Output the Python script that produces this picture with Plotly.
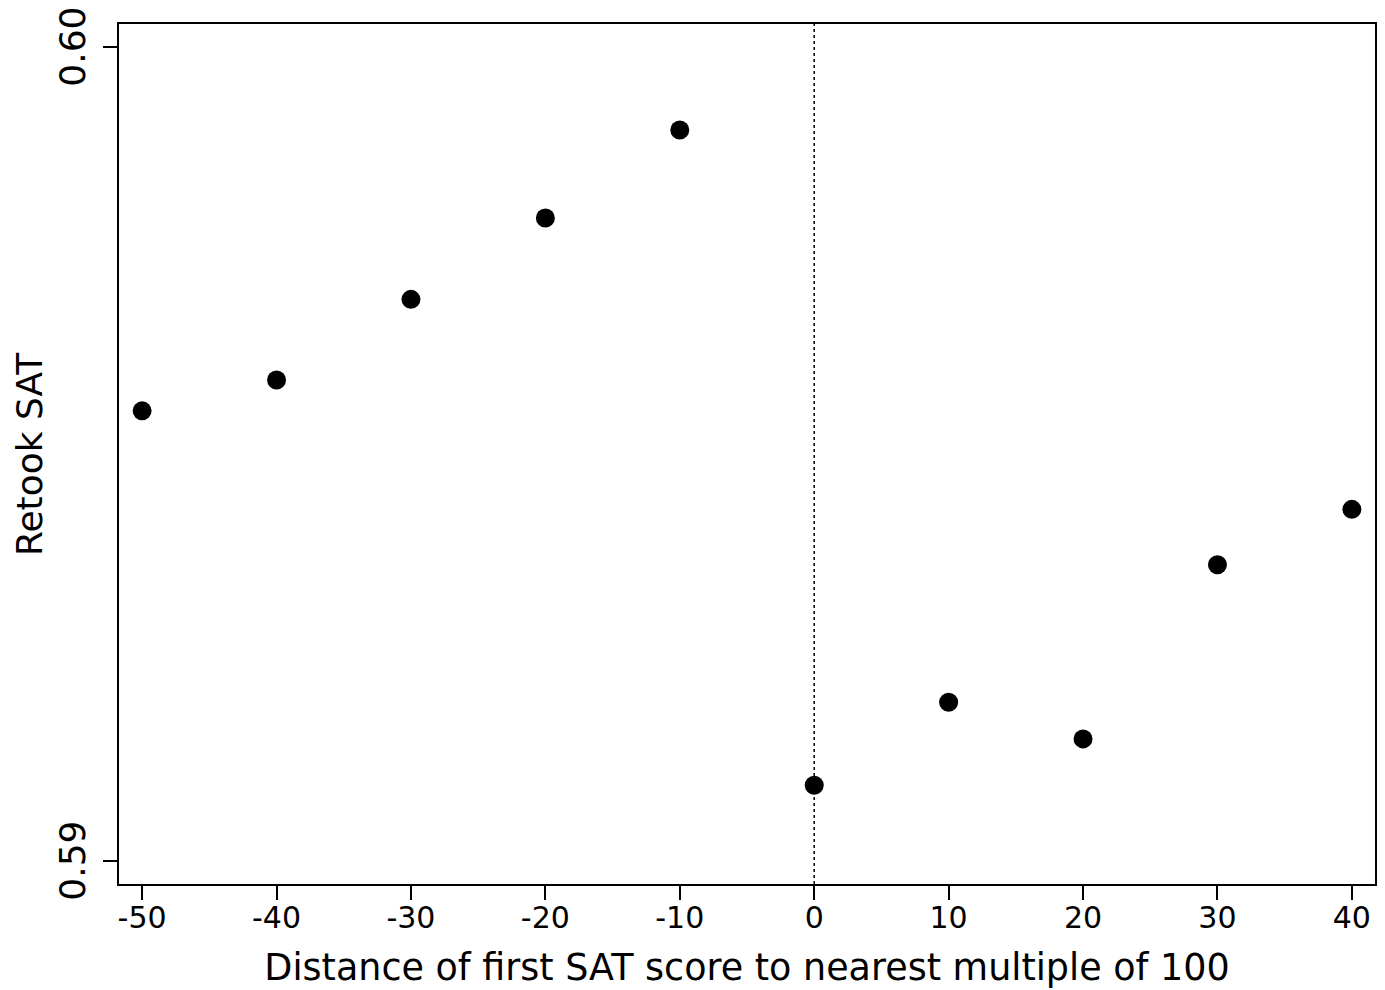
import plotly.graph_objects as go

# Data
distance = [-50, -40, -30, -20, -10, 0, 10, 20, 30, 40]
retook_sat = [0.59553, 0.59591, 0.59690, 0.59790, 0.59898,
              0.59093, 0.59195, 0.59150, 0.59364, 0.59432]

x_ticks = [-50, -40, -30, -20, -10, 0, 10, 20, 30, 40]
y_ticks = [0.59, 0.60]
y_tick_labels = ["0.59", "0.60"]

FONT = "DejaVu Sans"

fig = go.Figure()
fig.add_trace(go.Scatter(
    x=distance, y=retook_sat, mode="markers",
    marker=dict(color="black", size=19, line=dict(width=0)),
    hoverinfo="x+y", showlegend=False,
))

fig.add_shape(type="line", xref="x", yref="paper", x0=0, x1=0, y0=0, y1=1,
              line=dict(color="black", width=1.5, dash="dot"), layer="below")

fig.update_layout(
    width=1385, height=990,
    margin=dict(l=119, r=10, t=24, b=106),
    paper_bgcolor="white", plot_bgcolor="white",
    font=dict(family=FONT, color="black"),
)

fig.update_xaxes(
    range=[-51.72, 41.72], automargin=False,
    tickmode="array", tickvals=x_ticks, ticktext=[str(v) for v in x_ticks],
    ticks="outside", ticklen=14, tickwidth=2, tickcolor="black",
    tickfont=dict(family=FONT, size=30, color="black"),
    ticklabelstandoff=-8, ticklabeloverflow="allow",
    showline=True, linecolor="black", linewidth=2, mirror=True,
    showgrid=False, zeroline=False,
    title=dict(text="Distance of first SAT score to nearest multiple of 100",
               font=dict(family=FONT, size=36.5, color="black"), standoff=20),
)

fig.update_yaxes(
    range=[0.589717, 0.600283], automargin=False,
    tickmode="array", tickvals=y_ticks, ticktext=y_tick_labels,
    tickangle=-90,
    ticks="outside", ticklen=14, tickwidth=2, tickcolor="black",
    tickfont=dict(family=FONT, size=36, color="black"),
    ticklabelstandoff=4, ticklabelshift=5, ticklabeloverflow="allow",
    showline=True, linecolor="black", linewidth=2, mirror=True,
    showgrid=False, zeroline=False,
)

# y-axis title placed as an annotation so it sits where the reference has it
fig.add_annotation(
    text="Retook SAT", xref="paper", yref="paper", x=0, y=0.5,
    xanchor="center", yanchor="middle", xshift=-90, textangle=-90,
    showarrow=False, font=dict(family=FONT, size=36, color="black"),
)

# remove the default page margin so the figure fills the window exactly
fig.write_html("out.html",
               config={"displayModeBar": False},
               post_script="document.body.style.margin='0';document.body.style.overflow='hidden';")
